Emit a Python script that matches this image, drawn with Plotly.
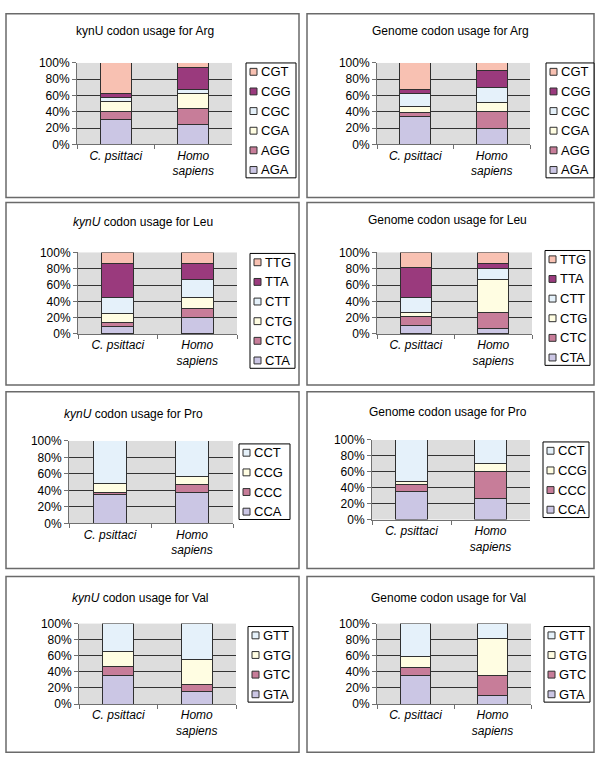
import plotly.graph_objects as go

W, H = 600, 770

SPECIES_LABELS = ["<i>C. psittaci</i>", "<i>Homo</i><br><i>sapiens</i>"]

ARG_CODONS = ["AGA", "AGG", "CGA", "CGC", "CGG", "CGT"]
ARG_KYNU_CPS = [31, 10, 12, 5, 5, 37]
ARG_KYNU_HS = [25, 19, 18, 6, 26, 6]
ARG_GENOME_CPS = [34, 5, 7, 17, 4, 33]
ARG_GENOME_HS = [20, 20, 11, 19, 21, 9]

LEU_CODONS = ["CTA", "CTC", "CTG", "CTT", "TTA", "TTG"]
LEU_KYNU_CPS = [9, 5, 11, 20, 41, 14]
LEU_KYNU_HS = [20, 11, 14, 22, 19, 14]
LEU_GENOME_CPS = [10, 11, 5, 19, 37, 18]
LEU_GENOME_HS = [7, 19, 41, 13, 7, 13]

PRO_CODONS = ["CCA", "CCC", "CCG", "CCT"]
PRO_KYNU_CPS = [35, 3, 11, 51]
PRO_KYNU_HS = [38, 9, 10, 43]
PRO_GENOME_CPS = [35, 9, 4, 52]
PRO_GENOME_HS = [27, 33, 11, 29]

VAL_CODONS = ["GTA", "GTC", "GTG", "GTT"]
VAL_KYNU_CPS = [35, 12, 18, 35]
VAL_KYNU_HS = [16, 8, 32, 44]
VAL_GENOME_CPS = [35, 10, 14, 41]
VAL_GENOME_HS = [11, 24, 47, 18]

COLORS6 = ["#CBC6E4", "#C77D99", "#FFFDE2", "#E5F1FA", "#9A3A7D", "#F8C1B2"]
COLORS4 = ["#CBC6E4", "#C77D99", "#FFFDE2", "#E5F1FA"]

FONT = "Liberation Sans, Arial, sans-serif"

# panel layout in pixels: plot area (x0,x1,y0,y1), legend top-left (x,y,w), title centre (x,y)
panels = [
    dict(title="kynU codon usage for Arg", codons=ARG_CODONS, cps=ARG_KYNU_CPS, hs=ARG_KYNU_HS, colors=COLORS6,
         plot=(77, 232, 57, 140), leg=(246, 57, 50), tpos=(145, 24)),
    dict(title="Genome codon usage for Arg", codons=ARG_CODONS, cps=ARG_GENOME_CPS, hs=ARG_GENOME_HS, colors=COLORS6,
         plot=(377, 530, 57, 140), leg=(546, 57, 48), tpos=(450, 24)),
    dict(title="<i>kynU</i> codon usage for Leu", codons=LEU_CODONS, cps=LEU_KYNU_CPS, hs=LEU_KYNU_HS, colors=COLORS6,
         plot=(78, 237, 250, 333), leg=(250, 251, 45), tpos=(143, 219)),
    dict(title="Genome codon usage for Leu", codons=LEU_CODONS, cps=LEU_GENOME_CPS, hs=LEU_GENOME_HS, colors=COLORS6,
         plot=(377, 532, 250, 333), leg=(545, 248, 45), tpos=(447, 217)),
    dict(title="<i>kynU</i> codon usage for Pro", codons=PRO_CODONS, cps=PRO_KYNU_CPS, hs=PRO_KYNU_HS, colors=COLORS4,
         plot=(69, 233, 442, 526), leg=(239, 445, 51), tpos=(133, 415)),
    dict(title="Genome codon usage for Pro", codons=PRO_CODONS, cps=PRO_GENOME_CPS, hs=PRO_GENOME_HS, colors=COLORS4,
         plot=(372, 530, 441, 522), leg=(543, 443, 46), tpos=(448, 413)),
    dict(title="<i>kynU</i> codon usage for Val", codons=VAL_CODONS, cps=VAL_KYNU_CPS, hs=VAL_KYNU_HS, colors=COLORS4,
         plot=(79, 236, 628, 710), leg=(248, 631, 45), tpos=(140, 602)),
    dict(title="Genome codon usage for Val", codons=VAL_CODONS, cps=VAL_GENOME_CPS, hs=VAL_GENOME_HS, colors=COLORS4,
         plot=(377, 531, 628, 710), leg=(544, 631, 46), tpos=(448, 602)),
]

boxes_rows = [(7, 194), (199, 385), (392, 572), (580, 759)]
boxes_cols = [(6, 299), (307, 594)]


def px(x):
    return x / W


def py(y):
    return 1 - y / H


fig = go.Figure()
annotations = []
shapes = []
layout = dict(
    width=W, height=H, margin=dict(l=0, r=0, t=0, b=0),
    paper_bgcolor="white", plot_bgcolor="#DDDDDD",
    barmode="stack", showlegend=False,
    font=dict(family=FONT, size=12, color="black"),
)

for (r0, r1) in boxes_rows:
    for (c0, c1) in boxes_cols:
        shapes.append(dict(
            type="rect", xref="paper", yref="paper",
            x0=px(c0), x1=px(c1), y0=py(r1), y1=py(r0),
            line=dict(color="#6A6A6A", width=1.5), layer="below",
        ))

for i, p in enumerate(panels):
    n = i + 1
    xa = "x" if n == 1 else f"x{n}"
    ya = "y" if n == 1 else f"y{n}"
    for j, codon in enumerate(p["codons"]):
        fig.add_trace(go.Bar(
            x=SPECIES_LABELS, y=[p["cps"][j], p["hs"][j]], name=codon,
            xaxis=xa, yaxis=ya,
            marker=dict(color=p["colors"][j], line=dict(color="#303030", width=1)),
            width=0.4,
        ))
    x0, x1, y0, y1 = p["plot"]
    layout["xaxis" if n == 1 else f"xaxis{n}"] = dict(
        domain=[px(x0), px(x1)], anchor=ya, showgrid=False, showline=True,
        linecolor="#707070", linewidth=1, ticks="outside", tickson="boundaries",
        ticklen=4, tickcolor="#707070", tickfont=dict(size=12, family=FONT),
        fixedrange=True,
    )
    layout["yaxis" if n == 1 else f"yaxis{n}"] = dict(
        domain=[py(y1), py(y0)], anchor=xa, range=[0, 100], dtick=20,
        ticksuffix="%", showgrid=True, gridcolor="#333333", gridwidth=1,
        zeroline=False, showline=True, linecolor="#707070", linewidth=1,
        ticks="outside", ticklen=4, tickcolor="#707070",
        tickfont=dict(size=12, family=FONT), fixedrange=True,
    )
    # legend (drawn from the codon list, top entry = last codon)
    lx, ly, lw = p["leg"]
    k = len(p["codons"])
    lh = 20 * k - 3
    shapes.append(dict(type="rect", xref="paper", yref="paper",
                       x0=px(lx), x1=px(lx + lw), y0=py(ly + lh), y1=py(ly),
                       line=dict(color="black", width=1), fillcolor="white"))
    for r, j in enumerate(reversed(range(k))):
        cy = ly + 9 + 20 * r
        shapes.append(dict(type="rect", xref="paper", yref="paper",
                           x0=px(lx + 4), x1=px(lx + 11), y0=py(cy + 3.5), y1=py(cy - 3.5),
                           line=dict(color="#303030", width=1), fillcolor=p["colors"][j]))
        annotations.append(dict(text=p["codons"][j], x=px(lx + 13), y=py(cy), xref="paper", yref="paper",
                                xanchor="left", yanchor="middle", showarrow=False,
                                font=dict(size=13, family=FONT)))
    tx, ty = p["tpos"]
    annotations.append(dict(
        text=p["title"], x=px(tx), y=py(ty), xref="paper", yref="paper",
        xanchor="center", yanchor="middle", showarrow=False,
        font=dict(size=12, family=FONT),
    ))

layout["annotations"] = annotations
layout["shapes"] = shapes
fig.update_layout(**layout)
fig.write_html("out.html", config=dict(displayModeBar=False, staticPlot=True),
               post_script="document.body.style.margin='0px';document.body.style.overflow='hidden';")
